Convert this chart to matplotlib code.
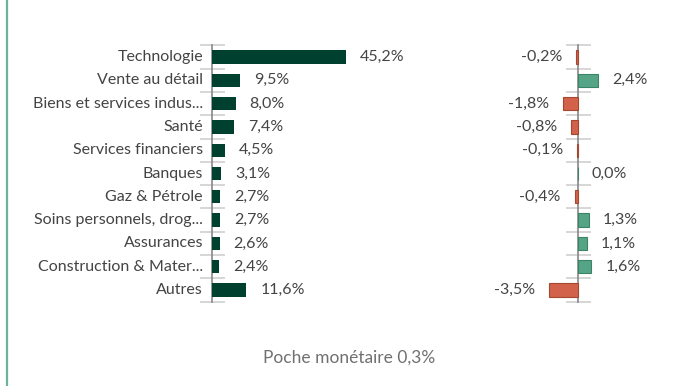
import numpy as np
import matplotlib
matplotlib.use("Agg")
import matplotlib.pyplot as plt
from matplotlib.lines import Line2D

plt.rcParams['font.family'] = ['Lato', 'DejaVu Sans']

sectors = ["Technologie", "Vente au détail", "Biens et services indus...", "Santé",
           "Services financiers", "Banques", "Gaz & Pétrole",
           "Soins personnels, drog...", "Assurances", "Construction & Mater...", "Autres"]
weights = [45.2, 9.5, 8.0, 7.4, 4.5, 3.1, 2.7, 2.7, 2.6, 2.4, 11.6]
relative = [-0.2, 2.4, -1.8, -0.8, -0.1, 0.0, -0.4, 1.3, 1.1, 1.6, -3.5]
cash_label = "Poche monétaire 0,3%"

DARK = "#00402f"
POS, POS_EDGE = "#54a485", "#3b8468"
NEG, NEG_EDGE = "#d2624a", "#a64731"
TXT = "#444444"
FS = 11.5

W, H = 686, 386
fig = plt.figure(figsize=(W / 100, H / 100), dpi=100)

# thin accent line on the left edge
fig.add_artist(Line2D([7 / W, 7 / W], [0, 1], color="#6db39a", lw=1.6))

y = np.arange(len(sectors))
top_px, bot_px = 45.3, 301.7


def make_axes(x0_px, x1_px):
    ax = fig.add_axes([x0_px / W, 1 - bot_px / H, (x1_px - x0_px) / W, (bot_px - top_px) / H])
    ax.set_ylim(len(sectors) - 0.5, -0.5)
    for s in ["top", "right", "bottom"]:
        ax.spines[s].set_visible(False)
    ax.spines["left"].set_color("#888888")
    ax.spines["left"].set_linewidth(1.2)
    ax.set_xticks([])
    ax.set_yticks([])
    ax.set_yticks(np.arange(-0.5, len(sectors)), minor=True)
    ax.tick_params(axis="y", which="minor", direction="inout", length=18,
                   color="#d0d0d0", width=1.2, labelleft=False)
    ax.patch.set_alpha(0)
    return ax


# left: sector weights
px1 = 2.96
ax1 = make_axes(212, 212 + 50 * px1)
ax1.set_xlim(0, 50)
ax1.barh(y, weights, height=0.57, color=DARK, zorder=3)
for yi, (name, v) in enumerate(zip(sectors, weights)):
    ax1.annotate(name, (0, yi), xytext=(-6.5, 0), textcoords="offset points",
                 ha="right", va="center", fontsize=FS, color=TXT)
    ax1.annotate(f"{v:.1f}%".replace(".", ","), (v, yi), xytext=(10, 0),
                 textcoords="offset points", ha="left", va="center",
                 fontsize=FS, color=TXT)

# right: relative weights
px2 = 8.4
ax2 = make_axes(578 - 4 * px2, 578 + 4 * px2)
ax2.set_xlim(-4, 4)
ax2.spines["left"].set_position(("data", 0))
cols = [POS if v >= 0 else NEG for v in relative]
edges = [POS_EDGE if v >= 0 else NEG_EDGE for v in relative]
ax2.barh(y, relative, height=0.57, color=cols, edgecolor=edges, linewidth=0.8, zorder=3)
for yi, v in enumerate(relative):
    s = f"{v:.1f}%".replace(".", ",")
    if v >= 0:
        ax2.annotate(s, (v, yi), xytext=(10, 0), textcoords="offset points",
                     ha="left", va="center", fontsize=FS, color=TXT)
    else:
        ax2.annotate(s, (v, yi), xytext=(-10, 0), textcoords="offset points",
                     ha="right", va="center", fontsize=FS, color=TXT)

fig.text(349 / W, 1 - 358 / H, cash_label, ha="center", va="center",
         fontsize=12.5, color="#707070")

fig.savefig("out.png", dpi=100)
